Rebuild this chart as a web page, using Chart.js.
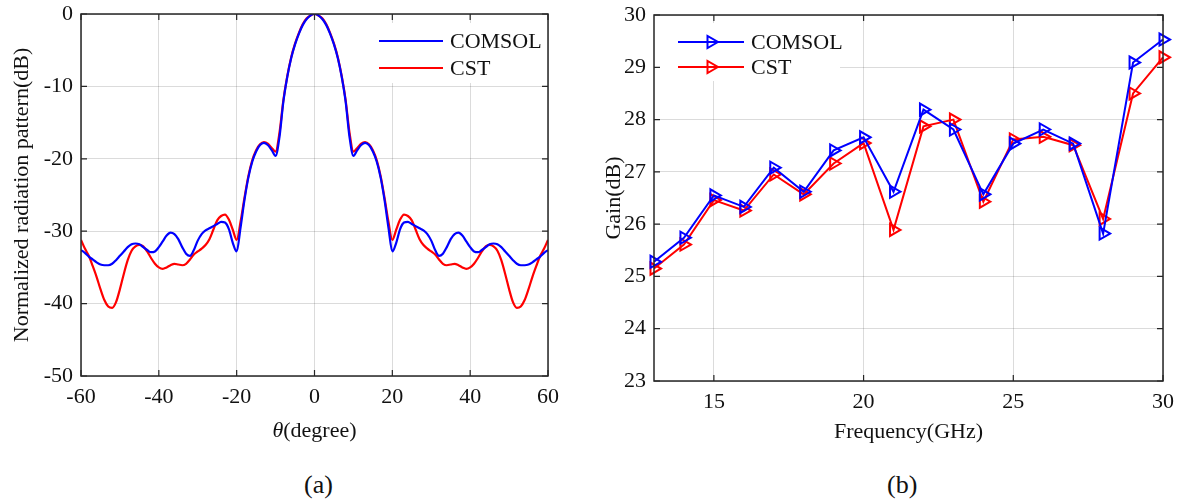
<!DOCTYPE html>
<html>
<head>
<meta charset="utf-8">
<script src="https://cdn.jsdelivr.net/npm/chart.js@4.4.1/dist/chart.umd.min.js"></script>
<style>
    body { margin: 0; background: #fff; width: 1178px; height: 499px; overflow: hidden; position: relative; font-family: "Liberation Serif", serif; }
    .box { position: absolute; top: 0; height: 445px; }
    #leftBox { left: 0; width: 575px; }
    #rightBox { left: 590px; width: 588px; }
    .cap { position: absolute; top: 470px; font-size: 26px; color: #111; line-height: 30px; }
</style>
</head>
<body>
<div class="box" id="leftBox"><canvas id="patternChart" width="575" height="445"></canvas></div>
<div class="box" id="rightBox"><canvas id="gainChart" width="588" height="445"></canvas></div>
<div class="cap" style="left:304px">(a)</div>
<div class="cap" style="left:887px">(b)</div>
<script>
// ---- data (a): normalized radiation pattern, 1 degree steps
const theta = Array.from({ length: 121 }, (_, i) => i - 60);
const comsolPattern = [
    -32.6, -33.0, -33.5, -33.9, -34.3, -34.6, -34.7, -34.7, -34.5, -34.0,
    -33.4, -32.8, -32.2, -31.8, -31.7, -31.8, -32.2, -32.6, -32.9, -32.8,
    -32.2, -31.4, -30.6, -30.2, -30.4, -31.1, -32.2, -33.1, -33.4, -32.6,
    -31.3, -30.4, -29.9, -29.6, -29.3, -29.0, -28.7, -28.8, -29.7, -31.6,
    -32.8, -29.5, -25.7, -22.6, -20.4, -19.0, -18.1, -17.8, -18.1, -18.8,
    -19.6, -17.0, -12.1, -8.7, -6.1, -4.2, -2.7, -1.5, -0.7, -0.2,
    0,
    -0.2, -0.7, -1.5, -2.7, -4.2, -6.1, -8.7, -12.1, -17.0, -19.6,
    -18.8, -18.1, -17.8, -18.1, -19.0, -20.4, -22.6, -25.7, -29.5, -32.8,
    -31.6, -29.7, -28.8, -28.7, -29.0, -29.3, -29.6, -29.9, -30.4, -31.3,
    -32.6, -33.4, -33.1, -32.2, -31.1, -30.4, -30.2, -30.6, -31.4, -32.2,
    -32.8, -32.9, -32.6, -32.2, -31.8, -31.7, -31.8, -32.2, -32.8, -33.4,
    -34.0, -34.5, -34.7, -34.7, -34.6, -34.3, -33.9, -33.5, -33.0, -32.6
];
const cstPattern = [
    -31.2, -32.4, -33.4, -34.8, -36.3, -38.0, -39.5, -40.4, -40.6, -39.8,
    -38.0, -35.9, -34.0, -32.7, -32.1, -31.9, -32.1, -32.8, -33.7, -34.5,
    -35.0, -35.2, -35.0, -34.7, -34.5, -34.6, -34.7, -34.5, -33.9, -33.2,
    -32.8, -32.4, -31.9, -31.1, -29.8, -28.5, -27.9, -27.7, -28.4, -29.8,
    -31.2, -28.7, -25.4, -22.4, -20.2, -18.8, -18.0, -17.7, -17.9, -18.5,
    -19.0, -16.4, -11.9, -8.6, -6.0, -4.1, -2.6, -1.4, -0.6, -0.2,
    0,
    -0.2, -0.6, -1.4, -2.6, -4.1, -6.0, -8.6, -11.9, -16.4, -19.0,
    -18.5, -17.9, -17.7, -18.0, -18.8, -20.2, -22.4, -25.4, -28.7, -31.2,
    -29.8, -28.4, -27.7, -27.9, -28.5, -29.8, -31.1, -31.9, -32.4, -32.8,
    -33.2, -33.9, -34.5, -34.7, -34.6, -34.5, -34.7, -35.0, -35.2, -35.0,
    -34.5, -33.7, -32.8, -32.1, -31.9, -32.1, -32.7, -34.0, -35.9, -38.0,
    -39.8, -40.6, -40.4, -39.5, -38.0, -36.3, -34.8, -33.4, -32.4, -31.2
];
const thetaTicks = [-60, -40, -20, 0, 20, 40, 60];
const patternTicks = [-50, -40, -30, -20, -10, 0];

// ---- data (b): gain vs frequency
const freq = [13, 14, 15, 16, 17, 18, 19, 20, 21, 22, 23, 24, 25, 26, 27, 28, 29, 30];
const comsolGain = [25.28, 25.74, 26.55, 26.33, 27.08, 26.62, 27.41, 27.66, 26.62, 28.19, 27.81, 26.57, 27.54, 27.81, 27.54, 25.82, 29.09, 29.53];
const cstGain = [25.15, 25.61, 26.46, 26.26, 26.95, 26.57, 27.16, 27.55, 25.89, 27.87, 28.00, 26.43, 27.62, 27.67, 27.51, 26.10, 28.50, 29.19];
const freqTicks = [15, 20, 25, 30];
const gainTicks = [23, 24, 25, 26, 27, 28, 29, 30];

const FONT = '"Liberation Serif", "Times New Roman", serif';
const INK = '#262626';
const GRID = 'rgba(0, 0, 0, 0.14)';

// box, inward ticks, axis titles and legend, MATLAB style
const matlabFrame = {
    id: 'matlabFrame',
    afterDatasetsDraw(chart, args, opts) {
        const { ctx, chartArea: a, scales } = chart;
        const x = scales.x, y = scales.y;
        ctx.save();

        // legend
        const lg = opts.legend;
        ctx.fillStyle = '#fff';
        ctx.fillRect(lg.box[0], lg.box[1], lg.box[2], lg.box[3]);
        ctx.font = `${opts.legendSize}px ${FONT}`;
        ctx.textAlign = 'left';
        ctx.textBaseline = 'middle';
        chart.data.datasets.forEach((ds, i) => {
            const ly = lg.y + i * lg.gap;
            ctx.strokeStyle = ds.borderColor;
            ctx.lineWidth = ds.borderWidth;
            ctx.beginPath();
            ctx.moveTo(lg.x, ly);
            ctx.lineTo(lg.x + lg.len, ly);
            ctx.stroke();
            if (ds.pointRadius) {
                ctx.fillStyle = 'rgba(0,0,0,0)';
                Chart.helpers.drawPoint(ctx, { pointStyle: ds.pointStyle, radius: ds.pointRadius, rotation: ds.pointRotation, borderWidth: ds.pointBorderWidth }, lg.x + lg.len / 2, ly);
            }
            ctx.fillStyle = '#111';
            ctx.fillText(ds.label, lg.x + lg.len + 7, ly + 1);
        });

        // frame and ticks
        ctx.strokeStyle = INK;
        ctx.lineWidth = 1.5;
        ctx.strokeRect(a.left, a.top, a.right - a.left, a.bottom - a.top);
        ctx.lineWidth = 1.2;
        ctx.beginPath();
        x.ticks.forEach(t => {
            const px = x.getPixelForValue(t.value);
            ctx.moveTo(px, a.bottom); ctx.lineTo(px, a.bottom - 6);
            ctx.moveTo(px, a.top); ctx.lineTo(px, a.top + 6);
        });
        y.ticks.forEach(t => {
            const py = y.getPixelForValue(t.value);
            ctx.moveTo(a.left, py); ctx.lineTo(a.left + 6, py);
            ctx.moveTo(a.right, py); ctx.lineTo(a.right - 6, py);
        });
        ctx.stroke();

        // axis titles
        ctx.fillStyle = '#111';
        ctx.textBaseline = 'middle';
        const cx = (a.left + a.right) / 2;
        const normal = `${opts.titleSize}px ${FONT}`;
        if (opts.xItalic) {
            ctx.font = `italic ${opts.titleSize}px ${FONT}`;
            const w1 = ctx.measureText(opts.xItalic).width;
            ctx.font = normal;
            const w2 = ctx.measureText(opts.xTitle).width;
            const x0 = cx - (w1 + w2) / 2;
            ctx.textAlign = 'left';
            ctx.font = `italic ${opts.titleSize}px ${FONT}`;
            ctx.fillText(opts.xItalic, x0, opts.xTitleY);
            ctx.font = normal;
            ctx.fillText(opts.xTitle, x0 + w1, opts.xTitleY);
        } else {
            ctx.font = normal;
            ctx.textAlign = 'center';
            ctx.fillText(opts.xTitle, cx, opts.xTitleY);
        }
        ctx.translate(opts.yTitleX, (a.top + a.bottom) / 2);
        ctx.rotate(-Math.PI / 2);
        ctx.textAlign = 'center';
        ctx.font = normal;
        ctx.fillText(opts.yTitle, 0, 0);
        ctx.restore();
    }
};

function axisOptions(min, max, ticks, size, pad) {
    return {
        type: 'linear',
        min: min,
        max: max,
        afterBuildTicks: scale => { scale.ticks = ticks.map(v => ({ value: v })); },
        afterFit: scale => {
            if (scale.isHorizontal()) scale.height = size; else scale.width = size;
            // let tick labels overflow into the layout padding instead of shrinking the plot
            scale.paddingTop = 0;
            scale.paddingBottom = 0;
            scale.paddingLeft = 0;
            scale.paddingRight = 0;
        },
        grid: { color: GRID, lineWidth: 1, drawTicks: false },
        border: { display: false },
        ticks: {
            color: '#111',
            padding: pad,
            font: { family: FONT, size: 22 },
            callback: v => String(v)
        }
    };
}

function printPatternChart() {
    const ctx = document.getElementById('patternChart').getContext('2d');
    new Chart(ctx, {
        type: 'line',
        data: {
            datasets: [{
                label: 'COMSOL',
                data: theta.map((t, i) => ({ x: t, y: comsolPattern[i] })),
                borderColor: '#0000ff',
                borderWidth: 2.2,
                pointRadius: 0,
                cubicInterpolationMode: 'monotone'
            }, {
                label: 'CST',
                data: theta.map((t, i) => ({ x: t, y: cstPattern[i] })),
                borderColor: '#ff0000',
                borderWidth: 2.2,
                pointRadius: 0,
                cubicInterpolationMode: 'monotone'
            }]
        },
        options: {
            responsive: false,
            animation: false,
            layout: { padding: { top: 14, right: 27, left: 0, bottom: 0 } },
            plugins: {
                legend: { display: false },
                tooltip: { enabled: false },
                matlabFrame: {
                    legend: { box: [372, 23, 174, 60], x: 379, y: 41, gap: 27, len: 64 },
                    legendSize: 22,
                    titleSize: 22,
                    xItalic: 'θ',
                    xTitle: '(degree)',
                    xTitleY: 431,
                    yTitle: 'Normalized radiation pattern(dB)',
                    yTitleX: 22
                }
            },
            scales: {
                x: axisOptions(-60, 60, thetaTicks, 69, 8),
                y: axisOptions(-50, 0, patternTicks, 81, 8)
            }
        },
        plugins: [matlabFrame]
    });
}

function printGainChart() {
    const ctx = document.getElementById('gainChart').getContext('2d');
    const marker = {
        borderWidth: 2,
        pointStyle: 'triangle',
        pointRotation: 90,
        pointRadius: 7,
        pointBorderWidth: 2,
        pointBackgroundColor: 'rgba(0,0,0,0)',
        tension: 0
    };
    new Chart(ctx, {
        type: 'line',
        data: {
            datasets: [Object.assign({
                label: 'COMSOL',
                data: freq.map((f, i) => ({ x: f, y: comsolGain[i] })),
                borderColor: '#0000ff',
                pointBorderColor: '#0000ff'
            }, marker), Object.assign({
                label: 'CST',
                data: freq.map((f, i) => ({ x: f, y: cstGain[i] })),
                borderColor: '#ff0000',
                pointBorderColor: '#ff0000'
            }, marker)]
        },
        options: {
            responsive: false,
            animation: false,
            clip: false,
            layout: { padding: { top: 15, right: 15, left: 0, bottom: 0 } },
            plugins: {
                legend: { display: false },
                tooltip: { enabled: false },
                matlabFrame: {
                    legend: { box: [66, 23, 184, 58], x: 88, y: 42, gap: 25, len: 66 },
                    legendSize: 22,
                    titleSize: 22,
                    xTitle: 'Frequency(GHz)',
                    xTitleY: 432,
                    yTitle: 'Gain(dB)',
                    yTitleX: 24
                }
            },
            scales: {
                x: axisOptions(13, 30, freqTicks, 64, 8),
                y: axisOptions(23, 30, gainTicks, 64, 8)
            }
        },
        plugins: [matlabFrame]
    });
}

printPatternChart();
printGainChart();
</script>
</body>
</html>
